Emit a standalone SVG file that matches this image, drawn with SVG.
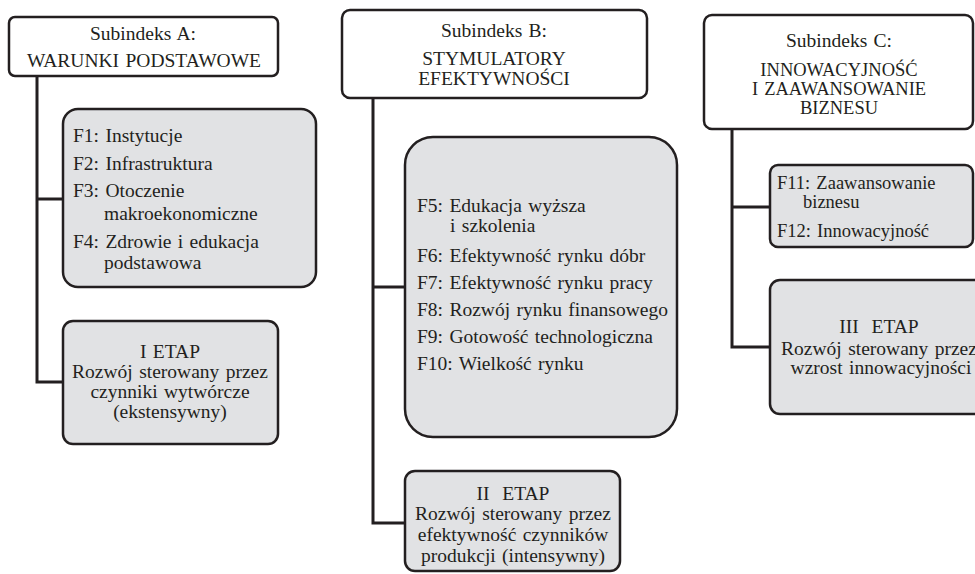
<svg xmlns="http://www.w3.org/2000/svg" width="975" height="574" viewBox="0 0 975 574">
<style>
  .hdr { fill: #ffffff; stroke: #231f20; stroke-width: 2.5; }
  .box { fill: #e1e2e4; stroke: #231f20; stroke-width: 2.5; }
  .conn { fill: none; stroke: #231f20; stroke-width: 3; }
  text { font-family: 'Liberation Serif', serif; font-size: 19.5px; word-spacing: 1.5px; fill: #231f20; }
  .c { text-anchor: middle; }
  .tight { font-size: 18.5px; }
</style>
<rect width="975" height="574" fill="#ffffff"/>
<g id="connectors">
  <polyline class="conn" points="37,76 37,382 63,382"/>
  <line class="conn" x1="37" y1="199" x2="63" y2="199"/>
  <polyline class="conn" points="373,98 373,523 405,523"/>
  <line class="conn" x1="373" y1="287" x2="405" y2="287"/>
  <polyline class="conn" points="732,129 732,347 770,347"/>
  <line class="conn" x1="732" y1="207" x2="770" y2="207"/>
</g>
<g id="subindex-a">
  <rect class="hdr" x="9" y="17" width="269" height="59" rx="6"/>
  <text class="c" x="143" y="40">Subindeks A:</text>
  <text class="c" x="144" y="67">WARUNKI PODSTAWOWE</text>
</g>
<g id="factors-a">
  <rect class="box" x="63" y="109" width="253" height="178" rx="15"/>
  <text x="73" y="142">F1: Instytucje</text>
  <text x="73" y="170">F2: Infrastruktura</text>
  <text x="73" y="197">F3: Otoczenie</text>
  <text x="104" y="220">makroekonomiczne</text>
  <text x="73" y="248">F4: Zdrowie i edukacja</text>
  <text x="104" y="269">podstawowa</text>
</g>
<g id="stage-1">
  <rect class="box" x="63" y="321" width="215" height="123" rx="10"/>
  <text class="c" x="170" y="358">I ETAP</text>
  <text class="c" x="170" y="378">Rozwój sterowany przez</text>
  <text class="c" x="170" y="398">czynniki wytwórcze</text>
  <text class="c" x="170" y="418">(ekstensywny)</text>
</g>
<g id="subindex-b">
  <rect class="hdr" x="342" y="10" width="305" height="88" rx="8"/>
  <text class="c" x="494" y="37">Subindeks B:</text>
  <text class="c" x="494" y="65">STYMULATORY</text>
  <text class="c" x="494" y="85">EFEKTYWNOŚCI</text>
</g>
<g id="factors-b">
  <rect class="box" x="405" y="137" width="272" height="300" rx="28"/>
  <text x="417" y="212">F5: Edukacja wyższa</text>
  <text x="450" y="232">i szkolenia</text>
  <text x="417" y="262">F6: Efektywność rynku dóbr</text>
  <text x="417" y="289">F7: Efektywność rynku pracy</text>
  <text x="417" y="316">F8: Rozwój rynku finansowego</text>
  <text x="417" y="343">F9: Gotowość technologiczna</text>
  <text x="417" y="370">F10: Wielkość rynku</text>
</g>
<g id="stage-2">
  <rect class="box" x="405" y="471" width="215" height="100" rx="10"/>
  <text class="c" x="513" y="500">II&#160;&#160;ETAP</text>
  <text class="c" x="513" y="520">Rozwój sterowany przez</text>
  <text class="c" x="513" y="541">efektywność czynników</text>
  <text class="c" x="513" y="562">produkcji (intensywny)</text>
</g>
<g id="subindex-c">
  <rect class="hdr" x="704" y="15" width="269" height="114" rx="8"/>
  <text class="c" x="839" y="47">Subindeks C:</text>
  <text class="c tight" x="839" y="76">INNOWACYJNOŚĆ</text>
  <text class="c tight" x="839" y="95">I ZAAWANSOWANIE</text>
  <text class="c tight" x="839" y="114">BIZNESU</text>
</g>
<g id="factors-c">
  <rect class="box" x="770" y="165" width="203" height="82" rx="8"/>
  <text class="tight" x="777" y="189">F11: Zaawansowanie</text>
  <text class="tight" x="803" y="208">biznesu</text>
  <text class="tight" x="777" y="237">F12: Innowacyjność</text>
</g>
<g id="stage-3">
  <rect class="box" x="770" y="280" width="220" height="134" rx="10"/>
  <text class="c" x="879" y="333">III&#160;&#160;ETAP</text>
  <text class="c" x="879" y="355">Rozwój sterowany przez</text>
  <text class="c" x="881" y="374">wzrost innowacyjności</text>
</g>
</svg>
